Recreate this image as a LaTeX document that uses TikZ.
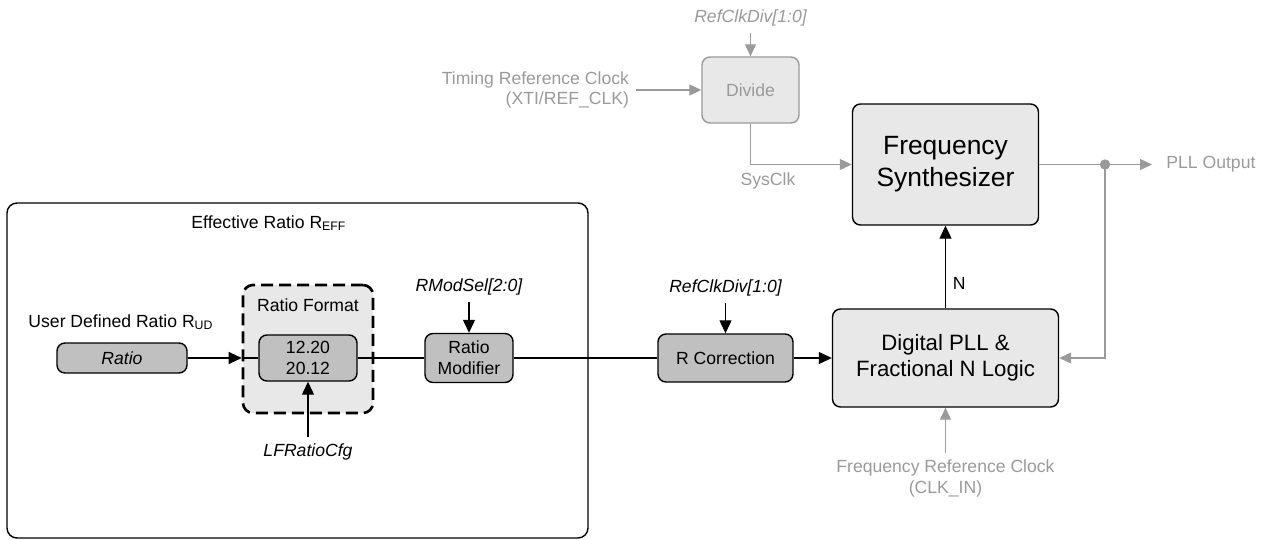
\documentclass[tikz,border=0pt]{standalone}
\usepackage{fontspec}
\setmainfont{Liberation Sans}
\usetikzlibrary{arrows.meta}

\definecolor{lightfill}{HTML}{E8E8E8}
\definecolor{darkfill}{HTML}{C0C0C0}
\definecolor{sig}{HTML}{9A9A9A}
\newcommand\basesize{\fontsize{8.8}{10.3}\selectfont}

\begin{document}
\begin{tikzpicture}[x=0.5pt,y=-0.5pt,
    font=\basesize,
%    every node/.style={draw},
    block/.style={draw,rounded corners=4pt,line width=0.7pt,align=center,inner sep=0pt},
    light/.style={block,fill=lightfill},
    dark/.style={block,fill=darkfill},
    sel/.style={font=\basesize\itshape},
    wire/.style={line width=0.6pt},
    feed/.style={->,line width=0.6pt,>={Triangle[length=6.5pt,width=6pt]}},
    clk/.style={->,sig,line width=0.6pt,>={Triangle[length=6pt,width=5.5pt]}}]

    \useasboundingbox (0,0) rectangle (1269,540);

    % effective ratio part
    \node[draw,rounded corners=5pt,line width=0.7pt,minimum width=290.5pt,minimum height=167.5pt] (eff) at (297.5,370.5) {};
    \node (efflbl) at (269,223) {Effective Ratio R\textsubscript{EFF}};
    \node (udlbl) at (121,322) {User Defined Ratio R\textsubscript{UD}};
    \node[draw,dash pattern=on 6pt off 3pt,line width=1.3pt,fill=lightfill,rounded corners=5pt,
          minimum width=65pt,minimum height=64pt] (fmt) at (308,349) {};
    \node (fmtlbl) at (308,305) {Ratio Format};

    \begin{scope}[every node/.append style={dark}]
      \node[minimum width=65pt,minimum height=15pt,font=\basesize\itshape] (ratio) at (122,358) {Ratio};
      \node[minimum width=49pt,minimum height=23pt] (fmtin) at (308,358) {12.20\\20.12};
      \node[minimum width=44pt,minimum height=24.5pt] (rmod) at (469,358) {Ratio\\Modifier};
      \node[minimum width=67.5pt,minimum height=24pt] (rcorr) at (725.5,358) {R Correction};
    \end{scope}

    \begin{scope}[every node/.append style={light}]
      \node[minimum width=113pt,minimum height=49pt,font=\fontsize{11.1}{13}\selectfont] (dpll) at (945.5,358) {Digital PLL \&\\Fractional N Logic};
      \node[minimum width=93pt,minimum height=60.5pt,font=\fontsize{13.2}{16}\selectfont] (fsyn) at (945.5,164.5) {Frequency\\Synthesizer};
      \node[draw=sig,text=sig,minimum width=48.5pt,minimum height=33pt] (divide) at (750.5,90) {Divide};
    \end{scope}

    \node[sel,anchor=north] (lfcfg) at (308,437) {LFRatioCfg};
    \node[sel,anchor=south] (rmodsel) at (469,302) {RModSel[2:0]};
    \node[sel,anchor=south] (rcdiv) at (725.5,303) {RefClkDiv[1:0]};

    \begin{scope}[every node/.append style={text=sig}]
      \node[sel,anchor=south] (grcdiv) at (750.5,33) {RefClkDiv[1:0]};
      \node[anchor=east,align=right] (trefclk) at (636,90) {Timing Reference Clock\\(XTI/REF\_CLK)};
      \node[anchor=north,align=center] (frefclk) at (945.5,453) {Frequency Reference Clock\\(CLK\_IN)};
      \node[anchor=west,inner xsep=7pt] (pllout) at (1152,164.5) {PLL Output};
      \node (sysclk) at (768,181) {SysClk};
    \end{scope}
    \coordinate (tap) at (1105,164.5);

    \draw[feed] (ratio) -- (ratio -| fmt.west);
    \draw[wire] (ratio -| fmt.west) -- (fmtin);
    \draw[feed] (lfcfg) -- (fmtin);
    \draw[wire] (fmtin) -- (rmod);
    \draw[feed] (rmodsel) -- (rmod);
    \draw[wire] (rmod) -- (rcorr);
    \draw[feed] (rcdiv) -- (rcorr);
    \draw[feed] (rcorr) -- (dpll);
    \draw[feed] (dpll) -- node[pos=0.3,right] {N} (fsyn);

    \draw[clk] (trefclk) -- (divide);
    \draw[clk] (grcdiv) -- (divide);
    \draw[clk] (divide) |- (fsyn);
    \draw[clk,-] (fsyn) -- (tap);
    \draw[clk] (tap) -- (pllout);
    \draw[clk] (tap) |- (dpll);
    \draw[clk] (frefclk) -- (dpll);
    \fill[sig] (tap) circle (2.6pt);
  \end{tikzpicture}
\end{document}
